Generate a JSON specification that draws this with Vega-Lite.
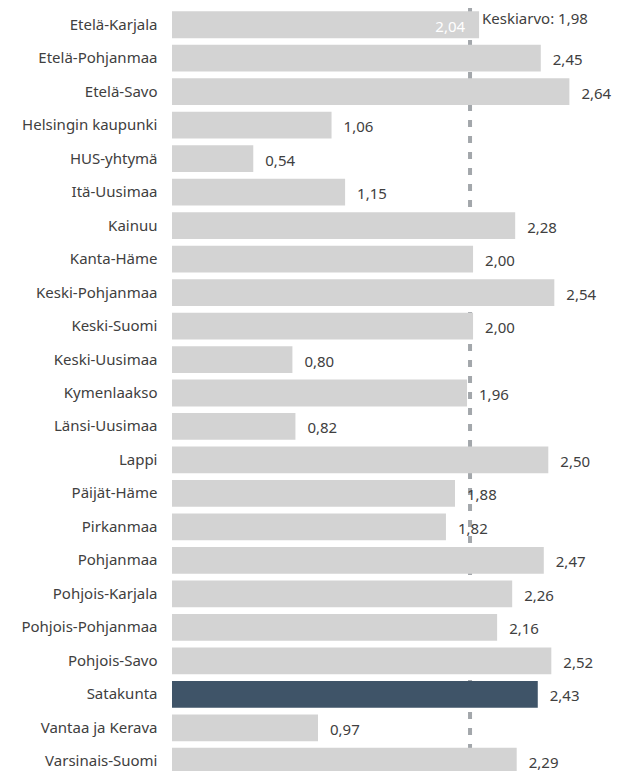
{
  "$schema": "https://vega.github.io/schema/vega-lite/v6.json",
  "width": 446,
  "height": 770,
  "autosize": {"type": "none"},
  "padding": {"left": 172, "top": 8, "right": 0, "bottom": 0},
  "background": "white",
  "config": {
    "view": {"stroke": null},
    "locale": {"number": {"decimal": ",", "thousands": " ", "grouping": [3], "currency": ["", " €"]}},
    "font": "Noto Sans"
  },
  "data": {
    "values": [
      {"region": "Etelä-Karjala", "value": 2.04},
      {"region": "Etelä-Pohjanmaa", "value": 2.45},
      {"region": "Etelä-Savo", "value": 2.64},
      {"region": "Helsingin kaupunki", "value": 1.06},
      {"region": "HUS-yhtymä", "value": 0.54},
      {"region": "Itä-Uusimaa", "value": 1.15},
      {"region": "Kainuu", "value": 2.28},
      {"region": "Kanta-Häme", "value": 2.00},
      {"region": "Keski-Pohjanmaa", "value": 2.54},
      {"region": "Keski-Suomi", "value": 2.00},
      {"region": "Keski-Uusimaa", "value": 0.80},
      {"region": "Kymenlaakso", "value": 1.96},
      {"region": "Länsi-Uusimaa", "value": 0.82},
      {"region": "Lappi", "value": 2.50},
      {"region": "Päijät-Häme", "value": 1.88},
      {"region": "Pirkanmaa", "value": 1.82},
      {"region": "Pohjanmaa", "value": 2.47},
      {"region": "Pohjois-Karjala", "value": 2.26},
      {"region": "Pohjois-Pohjanmaa", "value": 2.16},
      {"region": "Pohjois-Savo", "value": 2.52},
      {"region": "Satakunta", "value": 2.43},
      {"region": "Vantaa ja Kerava", "value": 0.97},
      {"region": "Varsinais-Suomi", "value": 2.29}
    ]
  },
  "encoding": {
    "y": {
      "field": "region",
      "type": "nominal",
      "sort": null,
      "title": null,
      "scale": {"paddingInner": 0.2, "paddingOuter": 0.1},
      "axis": {
        "ticks": false,
        "domain": false,
        "labelPadding": 15,
        "labelFontSize": 15,
        "labelColor": "#404040",
        "labelFont": "Noto Sans",
        "labelLimit": 200
      }
    }
  },
  "layer": [
    {
      "data": {"values": [{"mean": 1.98, "label": "Keskiarvo: 1,98"}]},
      "mark": {"type": "rule", "color": "#a3a7ab", "strokeWidth": 4, "strokeDash": [7, 9]},
      "encoding": {
        "x": {"field": "mean", "type": "quantitative", "scale": {"domain": [0, 2.963], "nice": false, "zero": true}, "axis": null},
        "y": null
      }
    },
    {
      "mark": {"type": "bar"},
      "encoding": {
        "x": {"field": "value", "type": "quantitative", "scale": {"domain": [0, 2.963], "nice": false}, "axis": null},
        "color": {
          "condition": {"test": "datum.region === 'Satakunta'", "value": "#3f5468"},
          "value": "#d3d3d3"
        }
      }
    },
    {
      "transform": [{"filter": "datum.region !== 'Etelä-Karjala'"}],
      "mark": {"type": "text", "align": "left", "baseline": "middle", "dx": 12, "dy": 2, "fontSize": 15, "color": "#404040"},
      "encoding": {
        "x": {"field": "value", "type": "quantitative"},
        "text": {"field": "value", "type": "quantitative", "format": ".2f"}
      }
    },
    {
      "transform": [{"filter": "datum.region === 'Etelä-Karjala'"}],
      "mark": {"type": "text", "align": "right", "baseline": "middle", "dx": -14, "dy": 2, "fontSize": 15, "color": "white"},
      "encoding": {
        "x": {"field": "value", "type": "quantitative"},
        "text": {"field": "value", "type": "quantitative", "format": ".2f"}
      }
    },
    {
      "data": {"values": [{"mean": 1.98, "label": "Keskiarvo: 1,98"}]},
      "mark": {"type": "text", "align": "left", "baseline": "middle", "dx": 12, "dy": -6, "fontSize": 15, "color": "#404040"},
      "encoding": {
        "x": {"field": "mean", "type": "quantitative"},
        "y": {"datum": "Etelä-Karjala", "type": "nominal"},
        "text": {"field": "label", "type": "nominal"}
      }
    }
  ]
}
